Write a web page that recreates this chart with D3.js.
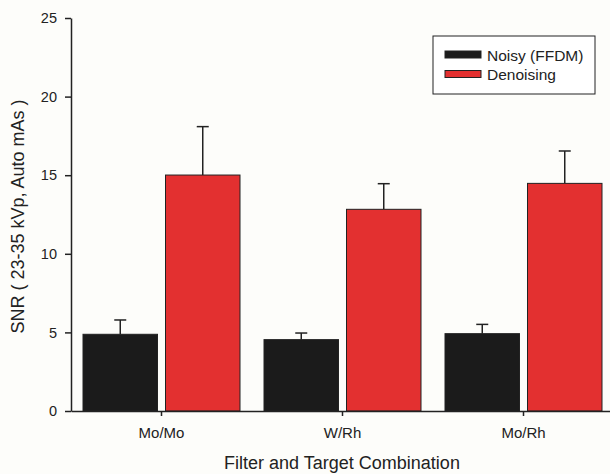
<!DOCTYPE html>
<html>
<head>
<meta charset="utf-8">
<script src="https://cdn.jsdelivr.net/npm/d3@7"></script>
<style>
  html, body { margin: 0; padding: 0; background: #fdfdfa; }
  svg { display: block; }
  text { font-family: "Liberation Sans", Arial, sans-serif; fill: #222; }
</style>
</head>
<body>
<svg id="chart" width="610" height="474"></svg>
<script>
const categories = ["Mo/Mo", "W/Rh", "Mo/Rh"];
const seriesNames = ["Noisy (FFDM)", "Denoising"];
const noisyValues = [4.88, 4.54, 4.92];
const noisyErrors = [0.91, 0.42, 0.59];
const denoisingValues = [15.01, 12.83, 14.48];
const denoisingErrors = [3.08, 1.63, 2.06];
const yTicks = [0, 5, 10, 15, 20, 25];
const colors = ["#1b1b1b", "#e33030"];

const svg = d3.select("#chart");
const W = 610, H = 474;
svg.append("rect").attr("width", W).attr("height", H).attr("fill", "#fdfdfa");

const mLeft = 71, mRight = 614, mTop = 18, mBottom = 411;

const x0 = d3.scaleBand().domain(categories).range([mLeft, mRight]).paddingInner(0).paddingOuter(0);
const x1 = d3.scaleBand().domain(seriesNames).range([0, x0.bandwidth()]).paddingInner(0.097).paddingOuter(0.1455);
const y = d3.scaleLinear().domain([0, 25]).range([mBottom, mTop]);

const rows = [];
categories.forEach((c, i) => {
  rows.push({cat: c, s: seriesNames[0], v: noisyValues[i], e: noisyErrors[i], color: colors[0]});
  rows.push({cat: c, s: seriesNames[1], v: denoisingValues[i], e: denoisingErrors[i], color: colors[1]});
});

// error bars (drawn behind bars)
const eb = svg.append("g");
rows.forEach(d => {
  const cx = x0(d.cat) + x1(d.s) + x1.bandwidth() / 2;
  eb.append("line").attr("x1", cx).attr("x2", cx).attr("y1", y(d.v)).attr("y2", y(d.v + d.e))
    .attr("stroke", "#222").attr("stroke-width", 1.5);
  eb.append("line").attr("x1", cx - 6).attr("x2", cx + 6).attr("y1", y(d.v + d.e)).attr("y2", y(d.v + d.e))
    .attr("stroke", "#222").attr("stroke-width", 1.5);
});

// bars
svg.append("g").selectAll("rect").data(rows).join("rect")
  .attr("x", d => x0(d.cat) + x1(d.s))
  .attr("width", x1.bandwidth())
  .attr("y", d => y(d.v))
  .attr("height", d => y(0) - y(d.v))
  .attr("fill", d => d.color)
  .attr("stroke", "#222")
  .attr("stroke-width", 1);

// y axis
const yAxis = svg.append("g").attr("transform", `translate(${mLeft},0)`)
  .call(d3.axisLeft(y).tickValues(yTicks).tickSize(6).tickSizeOuter(0).tickPadding(8));
yAxis.selectAll("text").style("font-size", "14.5px").attr("fill", "#222");
yAxis.selectAll("line, path").attr("stroke", "#222").attr("stroke-width", 1.5);

// x axis
const xAxis = svg.append("g").attr("transform", `translate(0,${mBottom})`)
  .call(d3.axisBottom(x0).tickSize(5).tickSizeOuter(0).tickPadding(11));
xAxis.selectAll("text").style("font-size", "15px").attr("fill", "#222");
xAxis.selectAll("line, path").attr("stroke", "#222").attr("stroke-width", 1.5);

// axis titles
svg.append("text").attr("x", 342).attr("y", 469).attr("text-anchor", "middle")
  .style("font-size", "18px").text("Filter and Target Combination");
svg.append("text").attr("transform", `translate(24,${(mTop + mBottom) / 2 + 2}) rotate(-90)`)
  .attr("text-anchor", "middle").style("font-size", "18px").text("SNR ( 23-35 kVp, Auto mAs )");

// legend
const lg = svg.append("g");
lg.append("rect").attr("x", 433).attr("y", 36).attr("width", 162).attr("height", 58)
  .attr("fill", "#fff").attr("stroke", "#222").attr("stroke-width", 1);
seriesNames.forEach((s, i) => {
  const yy = 51 + i * 19.5;
  lg.append("rect").attr("x", 445).attr("y", yy).attr("width", 36).attr("height", 7)
    .attr("fill", colors[i]).attr("stroke", "#222").attr("stroke-width", 1);
  lg.append("text").attr("x", 487).attr("y", yy + 9.5).style("font-size", "15.5px").text(s);
});
</script>
</body>
</html>
